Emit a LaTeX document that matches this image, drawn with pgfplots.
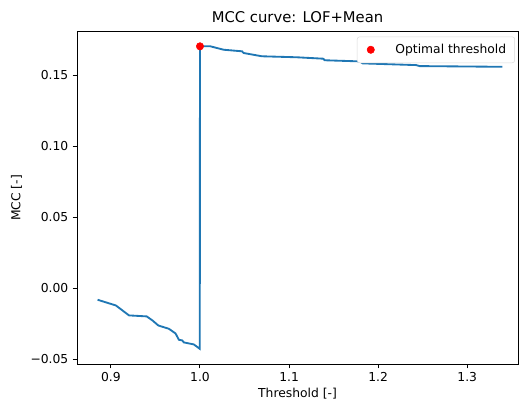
\documentclass[border=0pt]{standalone}
\usepackage{pgfplots}
\pgfplotsset{compat=1.18}
\usepackage{fontspec}
\setmainfont{DejaVu Sans}
\definecolor{mplblue}{HTML}{1F77B4}
\begin{document}
\begin{tikzpicture}
\begin{axis}[
  scale only axis,
  width=358pt, height=270pt,
  xmin=0.862, xmax=1.357,
  ymin=-0.0533, ymax=0.1806,
  xtick={0.9,1.0,1.1,1.2,1.3},
  xticklabels={0.9,1.0,1.1,1.2,1.3},
  ytick={-0.05,0,0.05,0.1,0.15},
  yticklabels={−0.05,0.00,0.05,0.10,0.15},
  tick align=outside,
  xtick pos=left, ytick pos=left,
  major tick length=3.5pt,
  every tick/.style={black, line width=0.8pt},
  axis line style={line width=0.8pt},
  ticklabel style={font=\fontsize{10}{12}\selectfont},
  label style={font=\fontsize{10}{12}\selectfont},
  title style={font=\fontsize{12}{14}\selectfont, yshift=-2pt},
  title={MCC curve: LOF+Mean},
  xlabel={Threshold [-]},
  ylabel={MCC [-]},
  xlabel style={yshift=2pt},
  legend style={at={(0.993,0.985)}, anchor=north east, draw=black!15, rounded corners=2pt,
    font=\fontsize{10}{12}\selectfont, inner xsep=3pt, inner ysep=4pt,
    nodes={inner xsep=4pt}},
  legend cell align=left,
  legend image code/.code={\path[draw=none,fill=none] (0pt,-3pt) rectangle (24pt,3pt); \fill[red] (8pt,0) circle (3pt);},
]
\addplot[mplblue, line width=1.5pt, forget plot] coordinates {
(0.8851,-0.0080)
(0.9056,-0.0120)
(0.9204,-0.0190)
(0.9402,-0.0197)
(0.9466,-0.0225)
(0.9533,-0.0261)
(0.9651,-0.0284)
(0.9726,-0.0317)
(0.9763,-0.0361)
(0.9801,-0.0366)
(0.9819,-0.0380)
(0.9931,-0.0394)
(0.9998,-0.0425)
(1.0000,0.1702)
(1.0117,0.1702)
(1.0266,0.1678)
(1.0472,0.1667)
(1.0490,0.1655)
(1.0695,0.1632)
(1.1086,0.1625)
(1.1383,0.1615)
(1.1400,0.1604)
(1.1793,0.1596)
(1.1827,0.1582)
(1.2427,0.1570)
(1.2464,0.1563)
(1.3394,0.1558)
};
\addplot[only marks, mark=*, mark size=3pt, color=red] coordinates {(1.0,0.1702)};
\addlegendentry{Optimal threshold}
\end{axis}
\path ([xshift=-62.5pt,yshift=-33pt]current axis.south west) rectangle ([xshift=4pt,yshift=25.6pt]current axis.north east);
\end{tikzpicture}
\end{document}
